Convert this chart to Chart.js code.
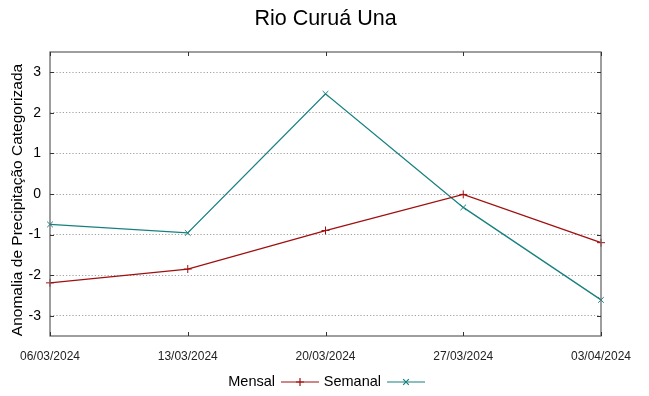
<!DOCTYPE html>
<html>
<head>
<meta charset="utf-8">
<script src="https://cdn.jsdelivr.net/npm/chart.js@4/dist/chart.umd.min.js"></script>
<style>
  html, body { margin: 0; padding: 0; background: #fff; }
  #wrap { width: 649px; height: 396px; }
</style>
</head>
<body>
<div id="wrap"><canvas id="chart" width="649" height="396"></canvas></div>
<script>
// Data
const dates = ['06/03/2024', '13/03/2024', '20/03/2024', '27/03/2024', '03/04/2024'];
const mensal = [-2.19, -1.85, -0.9, -0.01, -1.2];
const semanal = [-0.75, -0.96, 2.47, -0.33, -2.61];
const yTicks = [-3, -2, -1, 0, 1, 2, 3];

const FONT = "'Liberation Sans', Arial, sans-serif";
const RED = '#a00f0f';
const TEAL = '#16807f';

// Frame, inner tick marks, titles and gnuplot-like legend (text first, then line sample)
const extras = {
    id: 'extras',
    afterDraw(chart) {
        const ctx = chart.ctx;
        const a = chart.chartArea;
        const xs = chart.scales.x, ys = chart.scales.y;
        ctx.save();
        ctx.strokeStyle = '#6a6a6a';
        ctx.lineWidth = 1.3;
        ctx.strokeRect(a.left, a.top, a.right - a.left, a.bottom - a.top);

        // inward ticks like gnuplot
        ctx.strokeStyle = '#333';
        ctx.lineWidth = 1;
        ctx.beginPath();
        yTicks.forEach(v => {
            const py = Math.round(ys.getPixelForValue(v)) + 0.5;
            ctx.moveTo(a.left, py); ctx.lineTo(a.left + 4, py);
            ctx.moveTo(a.right, py); ctx.lineTo(a.right - 4, py);
        });
        dates.forEach((d, i) => {
            const px = Math.round(xs.getPixelForValue(i)) + 0.5;
            ctx.moveTo(px, a.bottom); ctx.lineTo(px, a.bottom - 4);
            ctx.moveTo(px, a.top); ctx.lineTo(px, a.top + 4);
        });
        ctx.stroke();

        ctx.fillStyle = '#000';
        ctx.font = '21.5px ' + FONT;
        ctx.textAlign = 'center';
        ctx.textBaseline = 'middle';
        ctx.fillText('Rio Curuá Una', (a.left + a.right) / 2, 19);

        // y axis title
        ctx.save();
        ctx.translate(18, 200);
        ctx.rotate(-Math.PI / 2);
        ctx.font = '15.5px ' + FONT;
        ctx.fillText('Anomalia de Precipitação Categorizada', 0, 0);
        ctx.restore();

        const items = [
            { label: 'Mensal', color: RED, style: 'cross', textEnd: 275 },
            { label: 'Semanal', color: TEAL, style: 'crossRot', textEnd: 381 }
        ];
        const y = 382;
        ctx.font = '14.5px ' + FONT;
        ctx.textAlign = 'right';
        items.forEach(it => {
            ctx.fillStyle = '#000';
            ctx.fillText(it.label, it.textEnd, y);
            const x0 = it.textEnd + 6, x1 = it.textEnd + 44;
            ctx.strokeStyle = it.color;
            ctx.lineWidth = 1.2;
            ctx.beginPath();
            ctx.moveTo(x0, y);
            ctx.lineTo(x1, y);
            ctx.stroke();
            Chart.helpers.drawPoint(ctx, { pointStyle: it.style, radius: 4, borderWidth: 1 }, (x0 + x1) / 2, y);
        });
        ctx.restore();
    }
};

new Chart(document.getElementById('chart'), {
    type: 'line',
    data: {
        labels: dates,
        datasets: [
            {
                label: 'Mensal',
                data: mensal,
                borderColor: RED,
                backgroundColor: RED,
                borderWidth: 1.3,
                pointStyle: 'cross',
                pointRadius: 4,
                pointBorderWidth: 1,
                tension: 0
            },
            {
                label: 'Semanal',
                data: semanal,
                borderColor: TEAL,
                backgroundColor: TEAL,
                borderWidth: 1.3,
                pointStyle: 'crossRot',
                pointRadius: 4,
                pointBorderWidth: 1,
                tension: 0
            }
        ]
    },
    options: {
        responsive: false,
        animation: false,
        layout: { padding: { top: 52, right: 48, bottom: 20, left: 0 } },
        plugins: {
            legend: { display: false },
            title: { display: false },
            tooltip: { enabled: false }
        },
        scales: {
            x: {
                offset: false,
                grid: { display: false, drawTicks: false, tickLength: 0 },
                border: { display: false },
                ticks: {
                    color: '#222',
                    font: { family: FONT, size: 12 },
                    padding: 13,
                    maxRotation: 0,
                    autoSkip: false
                },
                afterFit(scale) { scale.height = 40; }
            },
            y: {
                min: -3.5,
                max: 3.5,
                border: { display: false, dash: [1.2, 2] },
                grid: {
                    color: '#a0a0a0',
                    lineWidth: 1,
                    drawTicks: false
                },
                ticks: {
                    color: '#000',
                    font: { family: FONT, size: 14 },
                    padding: 9
                },
                afterBuildTicks(scale) {
                    scale.ticks = yTicks.map(v => ({ value: v }));
                },
                afterFit(scale) { scale.width = 50; }
            }
        }
    },
    plugins: [extras]
});
</script>
</body>
</html>
